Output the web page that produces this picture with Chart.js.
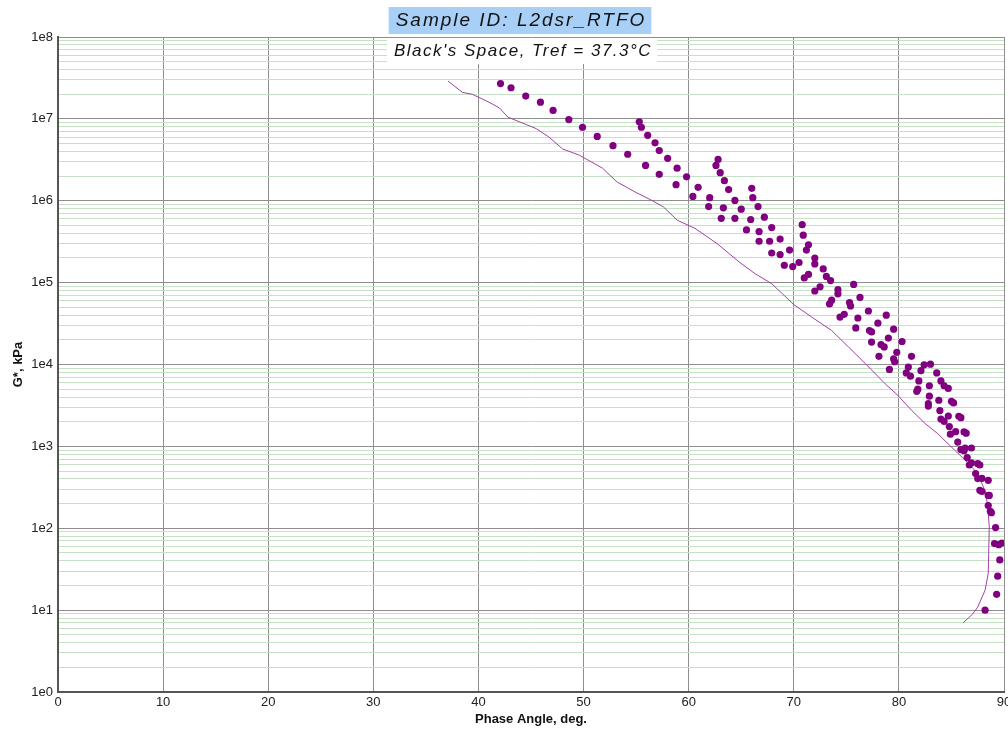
<!DOCTYPE html>
<html>
<head>
<meta charset="utf-8">
<script src="https://cdn.jsdelivr.net/npm/chart.js@4.4.1/dist/chart.umd.min.js"></script>
<style>
  html, body { margin: 0; padding: 0; background: #fff; }
  #wrap { width: 1008px; height: 732px; }
</style>
</head>
<body>
<div id="wrap"><canvas id="blackSpace" width="1008" height="732"></canvas></div>
<script>
// Black's space: measured points and master curve
const titleText = 'Sample ID: L2dsr_RTFO';
const subtitleText = "Black's Space, Tref = 37.3\u00B0C";

const dotPhase = [
  42.1, 43.1, 44.5, 45.9, 47.1, 48.6, 49.9, 51.3, 52.8, 54.2,
  55.3, 55.5, 56.1, 56.8, 57.2, 55.9, 58.0, 57.2, 58.9, 59.8,
  58.8, 60.9, 60.4, 62.0, 61.9, 62.8, 62.6, 63.0, 63.4, 63.8,
  64.4, 65.0, 64.4, 63.1, 63.3, 66.0, 66.1, 66.6, 67.2, 65.9,
  67.9, 66.7, 65.5, 68.7, 67.7, 66.7, 69.6, 68.7, 67.9, 70.5,
  69.1, 69.9, 70.8, 70.9, 71.4, 71.2, 72.0, 72.0, 72.8, 71.4,
  71.0, 73.1, 73.5, 72.5, 72.0, 74.2, 74.2, 75.7, 76.3, 73.6,
  73.4, 75.3, 75.4, 77.1, 74.8, 74.4, 76.1, 78.8, 78.0, 75.9,
  77.2, 77.4, 79.5, 79.0, 77.4, 80.3, 78.3, 78.6, 79.8, 78.1,
  79.5, 79.6, 81.2, 79.1, 80.9, 80.7, 81.1, 82.4, 83.0, 82.1,
  83.6, 81.9, 84.0, 84.3, 84.7, 82.9, 81.8, 81.7, 82.9, 83.8,
  85.0, 85.2, 82.8, 82.8, 83.9, 84.7, 85.7, 85.9, 84.0, 84.3,
  84.8, 85.4, 84.9, 86.2, 86.4, 85.6, 86.3, 86.2, 86.9, 85.9,
  86.5, 86.7, 86.9, 87.5, 87.7, 87.3, 87.5, 87.9, 88.5, 87.7,
  87.9, 88.5, 88.6, 88.5, 88.7, 88.8, 89.2, 89.1, 89.5, 89.8,
  89.6, 89.4, 89.3, 88.2
];
const dotModulus = [
  2.7e7, 2.4e7, 1.9e7, 1.6e7, 1.27e7, 9.8e6, 7.9e6, 6.1e6, 4.7e6, 3.7e6,
  9.2e6, 7.9e6, 6.3e6, 5.1e6, 4.1e6, 2.7e6, 3.3e6, 2.1e6, 2.5e6, 1.96e6,
  1.57e6, 1.46e6, 1.13e6, 1.09e6, 8.5e5, 3.2e6, 2.7e6, 2.2e6, 1.76e6, 1.37e6,
  1.01e6, 7.9e5, 6.1e5, 6.1e5, 8.2e5, 1.42e6, 1.09e6, 8.5e5, 6.3e5, 5.9e5,
  4.7e5, 4.2e5, 4.4e5, 3.4e5, 3.2e5, 3.2e5, 2.5e5, 2.2e5, 2.3e5, 1.76e5,
  1.63e5, 1.57e5, 5.1e5, 3.8e5, 2.9e5, 2.5e5, 2.0e5, 1.69e5, 1.47e5, 1.26e5,
  1.14e5, 1.19e5, 1.06e5, 8.9e4, 7.9e4, 8.2e4, 7.3e4, 9.5e4, 6.6e4, 6.1e4,
  5.5e4, 5.7e4, 5.2e4, 4.5e4, 4.1e4, 3.8e4, 3.7e4, 4.0e4, 3.2e4, 2.8e4,
  2.6e4, 2.5e4, 2.7e4, 2.1e4, 1.88e4, 1.91e4, 1.75e4, 1.64e4, 1.41e4, 1.26e4,
  1.17e4, 1.08e4, 1.26e4, 8.7e3, 9.3e3, 7.9e3, 7.2e3, 9.9e3, 1.01e4, 8.4e3,
  7.9e3, 6.3e3, 6.3e3, 5.5e3, 5.1e3, 5.5e3, 5.0e3, 4.7e3, 4.1e3, 3.66e3,
  3.56e3, 3.39e3, 3.33e3, 3.11e3, 2.74e3, 2.35e3, 2.33e3, 2.24e3, 2.16e3, 2.02e3,
  1.75e3, 1.51e3, 1.41e3, 1.50e3, 1.45e3, 1.13e3, 955, 887, 955, 914,
  730, 592, 627, 615, 592, 465, 404, 407, 385, 291,
  281, 252, 252, 189, 161, 155, 102, 65, 63, 66,
  41, 26, 15.6, 10
];

const linePhase = [
  37.1, 37.4, 38.5, 39.4, 41.0, 42.0, 42.8, 43.9, 45.5, 46.7,
  48.0, 49.6, 51.8, 53.2, 54.9, 56.5, 57.6, 58.9, 60.6, 62.7,
  64.8, 66.3, 67.9, 70.0, 71.7, 73.6, 75.2, 76.8, 78.7, 79.9,
  81.2, 82.5, 83.7, 85.0, 86.3, 87.5, 88.3, 88.5, 88.6, 88.5,
  88.2, 87.5, 87.0, 86.1
];
const lineModulus = [
  2.9e7, 2.7e7, 2.1e7, 2.0e7, 1.6e7, 1.36e7, 1.05e7, 9.2e6, 7.6e6, 6.0e6,
  4.3e6, 3.6e6, 2.5e6, 1.69e6, 1.28e6, 1.01e6, 8.4e5, 5.8e5, 4.6e5, 3.0e5,
  1.79e5, 1.29e5, 9.7e4, 5.4e4, 3.8e4, 2.6e4, 1.64e4, 1.03e4, 5.8e3, 4.2e3,
  2.76e3, 1.9e3, 1.43e3, 980, 680, 465, 265, 151, 104, 28,
  17.5, 10.9, 8.9, 7.0
];

// axis ticks
const phaseTicks = [0, 10, 20, 30, 40, 50, 60, 70, 80, 90];
const decadeExps = [0, 1, 2, 3, 4, 5, 6, 7, 8];
const minorSteps = [1, 2, 3, 4, 5, 6, 7, 8, 9];

const logTicks = [];
decadeExps.forEach(e => {
  if (e === decadeExps[decadeExps.length - 1]) { logTicks.push({ value: Math.pow(10, e), major: true }); return; }
  minorSteps.forEach(m => logTicks.push({ value: m * Math.pow(10, e), major: m === 1 }));
});

const FONT = '"Liberation Sans", Arial, sans-serif';

// title and subtitle drawn as highlighted labels
const titlePlugin = {
  id: 'boxTitles',
  afterDraw(chart) {
    const ctx = chart.ctx;
    ctx.save();
    ctx.textAlign = 'center';
    ctx.textBaseline = 'middle';

    ctx.font = 'italic 19px ' + FONT;
    ctx.letterSpacing = '2px';
    let w = ctx.measureText(titleText).width;
    ctx.fillStyle = '#a8cff6';
    ctx.fillRect(520 - w / 2 - 6, 7, w + 12, 27);
    ctx.fillStyle = '#111';
    ctx.fillText(titleText, 521, 20.5);

    ctx.font = 'italic 17px ' + FONT;
    ctx.letterSpacing = '1.5px';
    w = ctx.measureText(subtitleText).width;
    ctx.fillStyle = '#fff';
    ctx.fillRect(522 - w / 2 - 6, 38, w + 12, 26);
    ctx.fillStyle = '#111';
    ctx.fillText(subtitleText, 523, 51.5);
    ctx.restore();
  }
};

const ctx = document.getElementById('blackSpace');
new Chart(ctx, {
  type: 'scatter',
  data: {
    datasets: [
      {
        label: 'Measured',
        data: dotPhase.map((x, i) => ({ x, y: dotModulus[i] })),
        pointRadius: 3.6,
        pointBackgroundColor: '#800080',
        pointBorderWidth: 0,
        showLine: false
      },
      {
        label: 'Master curve',
        data: linePhase.map((x, i) => ({ x, y: lineModulus[i] })),
        showLine: true,
        pointRadius: 0,
        borderColor: '#a340a3',
        borderWidth: 1,
        tension: 0
      }
    ]
  },
  options: {
    responsive: false,
    animation: false,
    devicePixelRatio: 1,
    layout: { padding: { top: 37, right: 2, left: 0, bottom: 0 } },
    plugins: {
      legend: { display: false },
      tooltip: { enabled: false }
    },
    scales: {
      x: {
        type: 'linear',
        min: 0,
        max: 90,
        afterBuildTicks: axis => { axis.ticks = phaseTicks.map(v => ({ value: v })); },
        afterFit: s => { s.height = 40; s.paddingLeft = 0; s.paddingRight = 0; },
        grid: { color: '#8e8e8e', lineWidth: 1, drawTicks: false },
        border: { color: '#555', width: 2 },
        ticks: { color: '#222', padding: 3, font: { family: FONT, size: 13 }, maxRotation: 0, autoSkip: false },
        title: {
          display: true,
          text: 'Phase Angle, deg.',
          color: '#111',
          font: { family: FONT, size: 13, weight: 'bold' },
          padding: { top: 0, bottom: 5 }
        }
      },
      y: {
        type: 'logarithmic',
        min: 1,
        max: 1e8,
        afterBuildTicks: axis => { axis.ticks = logTicks.map(t => ({ value: t.value, major: t.major })); },
        afterFit: s => { s.width = 58; s.paddingTop = 0; s.paddingBottom = 0; },
        grid: {
          drawTicks: false,
          color: c => (c.tick && c.tick.major) ? '#8e8e8e' : '#c6e1c6',
          lineWidth: 1
        },
        border: { color: '#555', width: 2 },
        ticks: {
          color: '#222',
          padding: 5,
          autoSkip: false,
          font: { family: FONT, size: 13 },
          callback: function (v) {
            const e = Math.round(Math.log10(v));
            return Math.abs(Math.pow(10, e) - v) < 1e-6 * v ? '1e' + e : '';
          }
        },
        title: {
          display: true,
          text: 'G*, kPa',
          color: '#111',
          font: { family: FONT, size: 13, weight: 'bold' },
          padding: { top: 11, bottom: 0 }
        }
      }
    }
  },
  plugins: [titlePlugin]
});
</script>
</body>
</html>
